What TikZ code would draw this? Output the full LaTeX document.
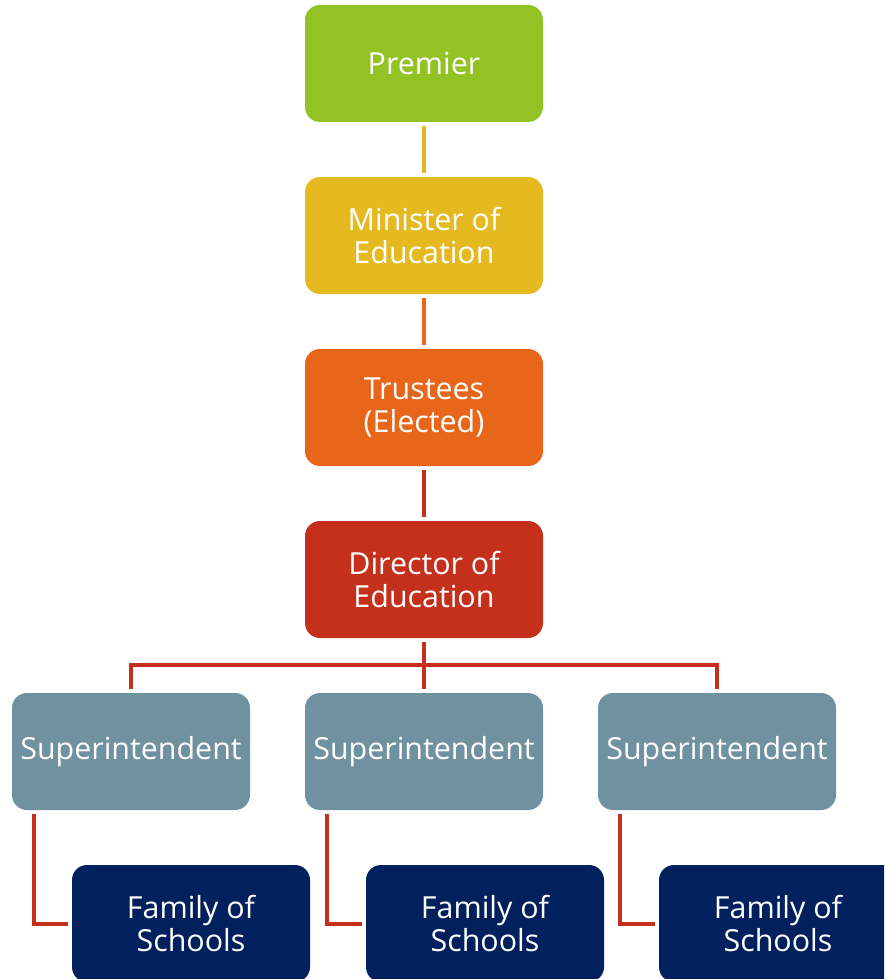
\documentclass[tikz,border=0pt]{standalone}
\usepackage{fontspec}
\setmainfont{Open Sans}
\definecolor{cgreen}{HTML}{93C225}
\definecolor{cyellow}{HTML}{E5B920}
\definecolor{corange}{HTML}{E8661A}
\definecolor{cred}{HTML}{C4301C}
\definecolor{cslate}{HTML}{7091A0}
\definecolor{cnavy}{HTML}{00205E}
\tikzset{
  box/.style={rectangle, rounded corners=15pt, minimum width=238pt, minimum height=117pt,
    inner sep=0pt, align=center, text=white, font=\fontsize{30.4}{33}\selectfont},
  conn/.style={line width=4pt, shorten <=4pt, shorten >=4pt}
}
\begin{document}
\begin{tikzpicture}[x=1pt,y=-1pt]
\useasboundingbox (0,0) rectangle (884,979);
\clip (0,0) rectangle (884,979);
\node[box, fill=cgreen] (pre) at (424,63.5) {Premier};
\node[box, fill=cyellow] (min) at (424,235.5) {Minister of\\Education};
\node[box, fill=corange] (tru) at (424,407.5) {Trustees\\(Elected)};
\node[box, fill=cred] (dir) at (424,579.5) {Director of\\Education};
\node[box, fill=cslate] (s1) at (131,751.5) {Superintendent};
\node[box, fill=cslate] (s2) at (424,751.5) {Superintendent};
\node[box, fill=cslate] (s3) at (717,751.5) {Superintendent};
\node[box, fill=cnavy] (f1) at (191,923.5) {Family of\\Schools};
\node[box, fill=cnavy] (f2) at (485,923.5) {Family of\\Schools};
\node[box, fill=cnavy] (f3) at (778,923.5) {Family of\\Schools};
\coordinate (bus) at (424,665);
\draw[conn, cyellow] (pre.south) -- (min.north);
\draw[conn, corange] (min.south) -- (tru.north);
\draw[conn, cred] (tru.south) -- (dir.north);
\draw[conn, cred, shorten >=0pt] (dir.south) -- (bus);
\draw[conn, cred, shorten <=0pt] (bus) -| (s1.north);
\draw[conn, cred, shorten <=0pt] (bus) -| (s3.north);
\draw[conn, cred, shorten <=0pt] (bus) -- (s2.north);
\draw[conn, cred] ([xshift=22pt]s1.south west) |- (f1.west);
\draw[conn, cred] ([xshift=22pt]s2.south west) |- (f2.west);
\draw[conn, cred] ([xshift=22pt]s3.south west) |- (f3.west);
\end{tikzpicture}
\end{document}
